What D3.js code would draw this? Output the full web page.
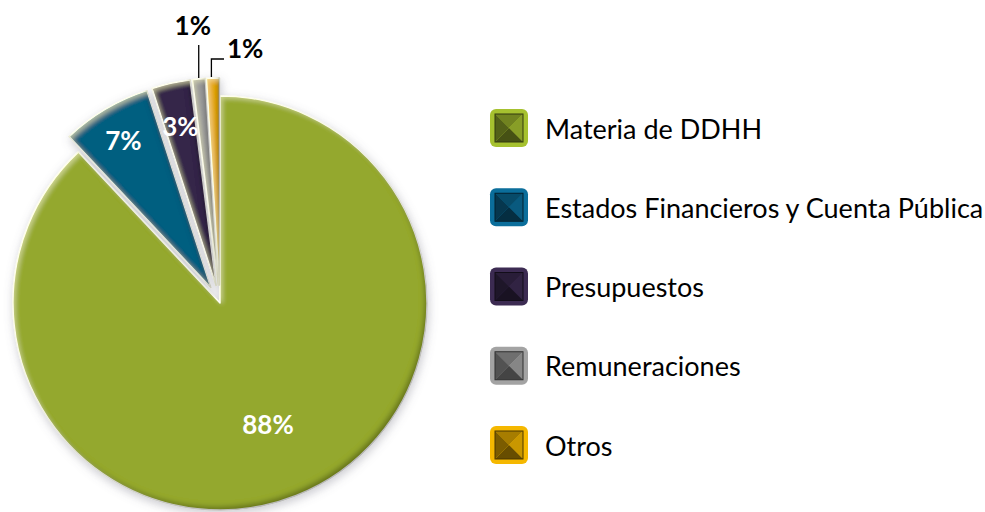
<!DOCTYPE html>
<html>
<head>
<meta charset="utf-8">
<script src="https://cdn.jsdelivr.net/npm/d3@7"></script>
<style>
  html, body { margin: 0; padding: 0; background: #fff; }
  svg { display: block; }
</style>
</head>
<body>
<svg id="chart" width="985" height="512"></svg>
<script>
// Distribution of items by subject
const categories = ["Materia de DDHH", "Estados Financieros y Cuenta Pública", "Presupuestos", "Remuneraciones", "Otros"];
const values = [88, 7, 3, 1, 1];
const valueLabels = ["88%", "7%", "3%", "1%", "1%"];
const sliceColors = ["#94a82e", "#055f80", "#35264a", "#9a9a9a", "#e6a80c"];
const legendColors = ["#a6c12f", "#0b6e9b", "#3c2b52", "#a3a3a3", "#f5b800"];

const svg = d3.select("#chart");
const cx = 220, cy = 303, R = 207;
const explode = 18;
const FONT = "Lato, 'Open Sans', sans-serif";

const defs = svg.append("defs");

// soft outer shadow around the pie
const shadow = defs.append("filter").attr("id", "pieShadow")
  .attr("x", "-20%").attr("y", "-20%").attr("width", "140%").attr("height", "140%");
shadow.append("feGaussianBlur").attr("in", "SourceAlpha").attr("stdDeviation", 5).attr("result", "b");
shadow.append("feOffset").attr("in", "b").attr("dx", 1).attr("dy", 3).attr("result", "ob");
shadow.append("feFlood").attr("flood-color", "#6a6a7a").attr("flood-opacity", 0.35);
shadow.append("feComposite").attr("in2", "ob").attr("operator", "in").attr("result", "sh");
const sm = shadow.append("feMerge");
sm.append("feMergeNode").attr("in", "sh");
sm.append("feMergeNode").attr("in", "SourceGraphic");

// bevel: dark inner rim at bottom/right, light rim at top/left
const bevel = defs.append("filter").attr("id", "bevel")
  .attr("x", "-5%").attr("y", "-5%").attr("width", "110%").attr("height", "110%");
bevel.append("feGaussianBlur").attr("in", "SourceAlpha").attr("stdDeviation", 2.5).attr("result", "blur");
bevel.append("feOffset").attr("in", "blur").attr("dx", -3).attr("dy", -4).attr("result", "offDark");
bevel.append("feComposite").attr("in", "SourceAlpha").attr("in2", "offDark").attr("operator", "out").attr("result", "maskDark");
bevel.append("feFlood").attr("flood-color", "#000").attr("flood-opacity", 0.55);
bevel.append("feComposite").attr("in2", "maskDark").attr("operator", "in").attr("result", "dark");
bevel.append("feOffset").attr("in", "blur").attr("dx", 3).attr("dy", 3).attr("result", "offLight");
bevel.append("feComposite").attr("in", "SourceAlpha").attr("in2", "offLight").attr("operator", "out").attr("result", "maskLight");
bevel.append("feFlood").attr("flood-color", "#ffffc8").attr("flood-opacity", 0.45);
bevel.append("feComposite").attr("in2", "maskLight").attr("operator", "in").attr("result", "light");
const bm = bevel.append("feMerge");
bm.append("feMergeNode").attr("in", "SourceGraphic");
bm.append("feMergeNode").attr("in", "dark");
bm.append("feMergeNode").attr("in", "light");

const pie = d3.pie().sort(null).value(d => d).startAngle(0).endAngle(2 * Math.PI);
const arcs = pie(values);
const arc = d3.arc().innerRadius(0).outerRadius(R);

// offset of each wedge along its bisector (the large wedge stays in place)
function offset(d, i) {
  const e = i === 0 ? 0 : explode;
  const a = (d.startAngle + d.endAngle) / 2;
  return [e * Math.sin(a), -e * Math.cos(a)];
}

const pieG = svg.append("g")
  .attr("transform", `translate(${cx},${cy})`)
  .attr("filter", "url(#pieShadow)");

pieG.selectAll("path.slice")
  .data(arcs)
  .join("path")
  .attr("class", "slice")
  .attr("transform", (d, i) => { const o = offset(d, i); return `translate(${o[0]},${o[1]})`; })
  .attr("d", arc)
  .attr("fill", (d, i) => sliceColors[i])
  .attr("stroke", "#fff")
  .attr("stroke-width", 1.5)
  .attr("stroke-linejoin", "round")
  .attr("filter", "url(#bevel)");

// labels inside the three larger wedges
const insideRadius = [0.63, 0.83, 0.79];
const labelsG = svg.append("g").attr("transform", `translate(${cx},${cy})`);
arcs.forEach((d, i) => {
  const o = offset(d, i);
  const a = (d.startAngle + d.endAngle) / 2;
  if (i < 3) {
    const r = R * insideRadius[i];
    labelsG.append("text")
      .attr("x", o[0] + r * Math.sin(a))
      .attr("y", o[1] - r * Math.cos(a))
      .attr("text-anchor", "middle")
      .attr("dominant-baseline", "central")
      .attr("font-family", FONT)
      .attr("font-weight", 700)
      .attr("font-size", 26)
      .attr("fill", "#fff")
      .text(valueLabels[i]);
  }
});

// callout labels for the thin wedges
const rimPoint = (d, i) => {
  const o = offset(d, i);
  const a = (d.startAngle + d.endAngle) / 2;
  return [o[0] + (R + 1) * Math.sin(a), o[1] - (R + 1) * Math.cos(a)];
};
{
  const d = arcs[3], p = rimPoint(d, 3);
  labelsG.append("path")
    .attr("d", `M${p[0]},${p[1]}V${45 - cy}`)
    .attr("stroke", "#000").attr("stroke-width", 1.3).attr("fill", "none");
  labelsG.append("text")
    .attr("x", p[0] - 6).attr("y", 35 - cy)
    .attr("text-anchor", "middle")
    .attr("font-family", FONT).attr("font-weight", 700).attr("font-size", 26)
    .attr("fill", "#000").text(valueLabels[3]);
}
{
  const d = arcs[4], p = rimPoint(d, 4);
  labelsG.append("path")
    .attr("d", `M${p[0] - 1.5},${p[1]}V${59 - cy}H${224 - cx}`)
    .attr("stroke", "#000").attr("stroke-width", 1.3).attr("fill", "none");
  labelsG.append("text")
    .attr("x", 227 - cx).attr("y", 58 - cy)
    .attr("text-anchor", "start")
    .attr("font-family", FONT).attr("font-weight", 700).attr("font-size", 26)
    .attr("fill", "#000").text(valueLabels[4]);
}

// legend
const legendY = d3.scalePoint().domain(categories).range([128, 445]);
const lg = svg.append("g");
const item = lg.selectAll("g.item")
  .data(categories)
  .join("g")
  .attr("class", "item")
  .attr("transform", d => `translate(490,${legendY(d) - 19})`);

const S = 38, inset = 5, inner = S - 2 * inset;
item.append("rect")
  .attr("width", S).attr("height", S).attr("rx", 6)
  .attr("fill", (d, i) => legendColors[i]);

// pyramid-shaped marker face: four shaded facets
const facets = [
  { pts: [[0, 0], [inner, 0], [inner / 2, inner / 2]], k: 0.68 },  // top
  { pts: [[inner, 0], [inner, inner], [inner / 2, inner / 2]], k: 0.82 }, // right
  { pts: [[0, inner], [inner, inner], [inner / 2, inner / 2]], k: 0.42 }, // bottom
  { pts: [[0, 0], [0, inner], [inner / 2, inner / 2]], k: 0.5 }    // left
];
item.each(function (d, i) {
  const g = d3.select(this).append("g").attr("transform", `translate(${inset},${inset})`);
  const base = d3.color(legendColors[i]);
  facets.forEach(f => {
    const c = d3.rgb(base.r * f.k, base.g * f.k, base.b * f.k);
    g.append("path")
      .attr("d", "M" + f.pts.map(p => p.join(",")).join("L") + "Z")
      .attr("fill", c.formatHex());
  });
  g.append("rect").attr("width", inner).attr("height", inner)
    .attr("fill", "none").attr("stroke", d3.rgb(base.r * 0.3, base.g * 0.3, base.b * 0.3).formatHex())
    .attr("stroke-width", 1);
});

item.append("text")
  .attr("x", 55).attr("y", S / 2)
  .attr("dominant-baseline", "central")
  .attr("font-family", FONT)
  .attr("font-size", 27)
  .attr("fill", "#000")
  .text(d => d);
</script>
</body>
</html>
